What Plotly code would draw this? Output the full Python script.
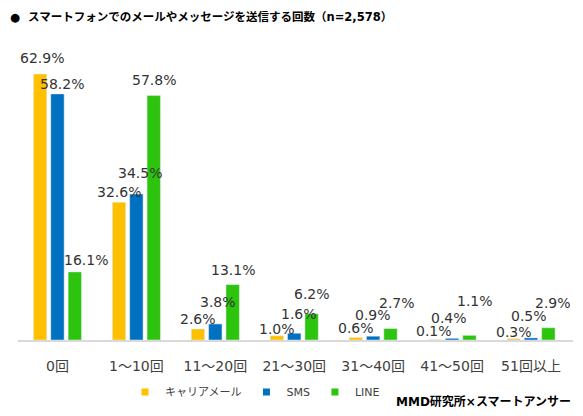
import plotly.graph_objects as go

categories = ["0回", "1～10回", "11～20回", "21～30回", "31～40回", "41～50回", "51回以上"]
series_names = ["キャリアメール", "SMS", "LINE"]
carrier_mail = [62.9, 32.6, 2.6, 1.0, 0.6, 0.1, 0.3]
sms = [58.2, 34.5, 3.8, 1.6, 0.9, 0.4, 0.5]
line_app = [16.1, 57.8, 13.1, 6.2, 2.7, 1.1, 2.9]
colors = ["#FFC000", "#0070C0", "#2CC40C"]

# label placement as in the reference (pixel offsets: from category centre, above bar top)
label_dx = [
    [-15, -17, -17, -17, -17, -18, -17],
    [5, 4, 3, 5, 0, -3, -2],
    [29, 18, 18, 18, 24, 23, 22],
]
label_dy = [
    [16, 10, 10, 7, 9, 9, 7],
    [10, 21, 22, 19, 21, 20, 22],
    [12, 16, 15, 20, 26, 34, 25],
]

FONT = "DejaVu Sans, Noto Sans CJK JP, sans-serif"
OFF = 8  # page body margin
W, H = 583 - OFF, 416 - OFF
ML, MR, MT, MB = 18 - OFF, 10, 44 - OFF, 76
PW, PH = W - ML - MR, H - MT - MB

fig = go.Figure()
annotations = []
for i, (name, vals, col) in enumerate(zip(series_names, [carrier_mail, sms, line_app], colors)):
    fig.add_trace(go.Bar(x=categories, y=vals, name=name, marker_color=col, showlegend=False))
    fig.add_trace(go.Scatter(
        x=[None], y=[None], mode="markers", name=name,
        marker=dict(symbol="square", size=7, color=col),
    ))
    for j, (c, v) in enumerate(zip(categories, vals)):
        annotations.append(dict(
            x=c, y=v, xref="x", yref="y", text=f"{v:.1f}%", showarrow=False,
            xanchor="center", yanchor="middle",
            xshift=label_dx[i][j], yshift=label_dy[i][j],
            font=dict(family=FONT, size=14, color="#333333"),
        ))

annotations.append(dict(
    text="<b>MMD研究所×スマートアンサー</b>", showarrow=False,
    xref="paper", yref="paper",
    x=(573 - OFF - ML) / PW, xanchor="right",
    y=-(401 - 340) / PH, yanchor="middle",
    font=dict(family=FONT, size=12, color="#000000"),
))

fig.update_layout(
    width=W, height=H,
    margin=dict(l=ML, r=MR, t=MT, b=MB),
    paper_bgcolor="white", plot_bgcolor="white",
    barmode="group", bargap=0.34, bargroupgap=0.23,
    font=dict(family=FONT, color="#404040"),
    title=dict(
        text="●  スマートフォンでのメールやメッセージを送信する回数（n=2,578）",
        font=dict(family=FONT, size=11.5, color="#000000", weight="bold"),
        xref="container", yref="container", x=(10 - OFF) / W, xanchor="left",
        y=1 - (17 - OFF) / H, yanchor="middle",
    ),
    xaxis=dict(
        showline=True, linecolor="#D9D9D9", linewidth=1.5,
        ticks="", ticklabelstandoff=12, automargin=False,
        tickfont=dict(family=FONT, size=14, color="#404040"),
        showgrid=False, zeroline=False,
    ),
    yaxis=dict(range=[0, 70], visible=False, showgrid=False, zeroline=False, automargin=False),
    legend=dict(
        orientation="h", x=(255 - OFF - ML) / PW, xanchor="center",
        y=-(392 - 340) / PH, yanchor="middle",
        font=dict(family=FONT, size=11, color="#404040"),
        itemwidth=30, tracegroupgap=0,
    ),
    annotations=annotations,
)

fig.write_html("out.html")
